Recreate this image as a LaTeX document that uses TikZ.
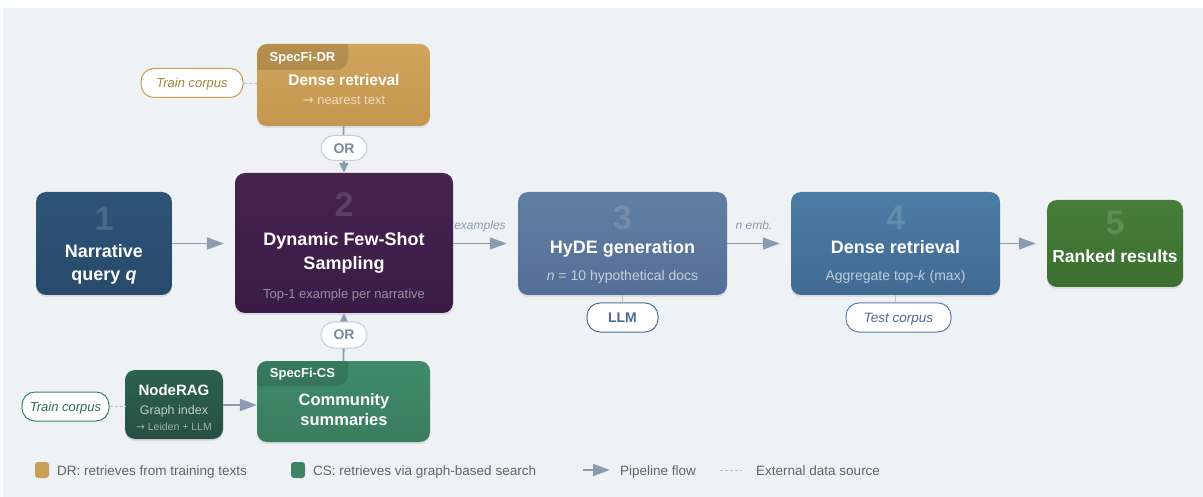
\documentclass[tikz,border=0pt]{standalone}
\usepackage{fontspec}
\setmainfont{Liberation Sans}
\newfontfamily\arrowfont{DejaVu Sans}
\usetikzlibrary{arrows.meta,shadows}
\definecolor{bgc}{HTML}{EFF2F4}
\definecolor{flowc}{HTML}{8B9AAF}
\definecolor{extc}{HTML}{B9C1CB}
\definecolor{goldc}{HTML}{C99E55}
\definecolor{goldt}{HTML}{A8823D}
\definecolor{greenc}{HTML}{3C8464}
\definecolor{greent}{HTML}{2F6E55}
\definecolor{bluet}{HTML}{4A6A92}
\definecolor{legt}{HTML}{5B6570}
\definecolor{orc}{HTML}{C6CED9}
\definecolor{ort}{HTML}{7B8AA0}
\definecolor{qa}{HTML}{2E5479}\definecolor{qb}{HTML}{284A6B}
\definecolor{fa}{HTML}{47234F}\definecolor{fb}{HTML}{3A1A47}
\definecolor{ha}{HTML}{617FA3}\definecolor{hb}{HTML}{546F97}
\definecolor{da}{HTML}{4C7CA5}\definecolor{db}{HTML}{416A92}
\definecolor{ra}{HTML}{467E39}\definecolor{rb}{HTML}{3C6E30}
\definecolor{dra}{HTML}{D0A55C}\definecolor{drb}{HTML}{C4964F}
\definecolor{csa}{HTML}{3F8C6A}\definecolor{csb}{HTML}{3A7D5E}
\definecolor{na}{HTML}{2D6150}\definecolor{nb}{HTML}{264F41}
\definecolor{llmc}{HTML}{4F6F98}
\definecolor{tcc}{HTML}{5A7FA6}
\newcommand{\fsz}[1]{\fontsize{#1}{#1}\selectfont}
\newcommand{\rarr}{{\arrowfont →}}
\tikzset{
  box/.style={draw=none, rounded corners=10pt, inner sep=0pt,
    drop shadow={opacity=0.18, shadow xshift=0pt, shadow yshift=-2pt}},
  bignum/.style={font=\fsz{34}\bfseries, text=white, text opacity=0.14, inner sep=0pt, anchor=base},
  ttl/.style={font=\fsz{18}\bfseries, text=white, inner sep=0pt, anchor=base},
  sub/.style={font=\fsz{14}, text=white, text opacity=0.66, inner sep=0pt, anchor=base},
  pill/.style={draw, line width=1pt, fill=white, rounded corners=13pt, inner sep=0pt},
  ptxt/.style={inner sep=0pt, anchor=base},
  flow/.style={draw=flowc, line width=1.8pt, -{Triangle[length=17pt,width=12pt]}},
  vflow/.style={draw=flowc, line width=1.8pt, -{Triangle[length=10pt,width=9pt]}},
  ext/.style={draw=extc, line width=0.9pt, dash pattern=on 3pt off 2pt},
  lnk/.style={draw=extc, line width=1pt},
  elab/.style={font=\fsz{12}\itshape, text=flowc, inner sep=0pt, anchor=base},
  tabt/.style={font=\fsz{13}\bfseries, text=white, inner sep=0pt, anchor=base},
  legt/.style={font=\fsz{13.5}, text=legt, anchor=base west, inner sep=0pt}
}
\begin{document}
\begin{tikzpicture}[x=1pt,y=-1pt]
\useasboundingbox (0,0) rectangle (1203,497);
\fill[white] (0,0) rectangle (1203,497);
\fill[bgc] (3,8) rectangle (1203,497);

% main pipeline boxes
\node[box, top color=qa, bottom color=qb, minimum width=136pt, minimum height=103pt] (q) at (104,243.5) {};
\node[bignum] (q1) at (104,231) {1};
\node[ttl] (q2) at (104,258) {Narrative};
\node[ttl] (q3) at (104,281) {query \textit{q}};

\node[box, top color=fa, bottom color=fb, minimum width=218pt, minimum height=140pt] (fs) at (344,243) {};
\node[bignum] (fs1) at (344,217) {2};
\node[ttl] (fs2) at (344,246) {Dynamic Few-Shot};
\node[ttl] (fs3) at (344,270) {Sampling};
\node[sub, font=\fsz{13}, text opacity=0.5] (fs4) at (344,298.5) {Top-1 example per narrative};

\node[box, top color=ha, bottom color=hb, minimum width=209pt, minimum height=103pt] (hy) at (622.5,243.5) {};
\node[bignum] (hy1) at (622.5,230) {3};
\node[ttl] (hy2) at (622.5,254) {HyDE generation};
\node[sub] (hy3) at (622.5,280) {\textit{n} = 10 hypothetical docs};

\node[box, top color=da, bottom color=db, minimum width=209pt, minimum height=103pt] (dn) at (895.5,243.5) {};
\node[bignum] (dn1) at (895.5,230) {4};
\node[ttl] (dn2) at (895.5,254) {Dense retrieval};
\node[sub] (dn3) at (895.5,280) {Aggregate top-\textit{k} (max)};

\node[box, top color=ra, bottom color=rb, minimum width=136pt, minimum height=87pt] (rk) at (1115,243.5) {};
\node[bignum] (rk1) at (1115,235) {5};
\node[ttl, font=\fsz{17.5}\bfseries] (rk2) at (1115,263) {Ranked results};

% SpecFi-DR
\node[box, top color=dra, bottom color=drb, minimum width=173pt, minimum height=82pt] (dr) at (343.5,85) {};
\begin{scope}
\clip[rounded corners=10pt] (257,44) rectangle (430,126);
\fill[black, opacity=0.13, rounded corners=11pt] (245,33) rectangle (348,70);
\end{scope}
\node[tabt] (dr0) at (302.5,61.5) {SpecFi-DR};
\node[ttl, font=\fsz{15.5}\bfseries] (dr1) at (344,86) {Dense retrieval};
\node[sub, font=\fsz{13}] (dr2) at (344,105) {\rarr\ nearest text};

% SpecFi-CS
\node[box, top color=csa, bottom color=csb, minimum width=173pt, minimum height=81pt] (cs) at (343.5,401.5) {};
\begin{scope}
\clip[rounded corners=10pt] (257,361) rectangle (430,442);
\fill[black, opacity=0.13, rounded corners=11pt] (245,350) rectangle (348,386);
\end{scope}
\node[tabt] (cs0) at (302.5,377.7) {SpecFi-CS};
\node[ttl, font=\fsz{16.5}\bfseries] (cs1) at (344,405) {Community};
\node[ttl, font=\fsz{16.5}\bfseries] (cs2) at (344,425) {summaries};

% NodeRAG
\node[box, top color=na, bottom color=nb, minimum width=98pt, minimum height=69pt] (nr) at (174,404.5) {};
\node[ttl, font=\fsz{15}\bfseries] (nr1) at (174,395.7) {NodeRAG};
\node[sub, font=\fsz{12.5}, text opacity=0.7] (nr2) at (174,414) {Graph index};
\node[sub, font=\fsz{10.5}, text opacity=0.55] (nr3) at (174,430.7) {\rarr\ Leiden + LLM};

% external sources
\node[pill, draw=goldc, minimum width=102pt, minimum height=29pt] (tc1) at (192,83) {};
\node[ptxt, font=\fsz{13}\itshape, text=goldt] (tc1t) at (192,87.7) {Train corpus};
\node[pill, draw=greenc, minimum width=87pt, minimum height=29pt] (tc2) at (65.5,406.5) {};
\node[ptxt, font=\fsz{13}\itshape, text=greent] (tc2t) at (65.5,411.5) {Train corpus};
\draw[ext] (tc1.east) -- (tc1.east -| dr.west);
\draw[ext] (tc2.east) -- (tc2.east -| nr.west);

% OR connectors
\draw[vflow] (dr.south) -- (fs.north);
\draw[vflow] (cs.north) -- (fs.south);
\node[pill, draw=orc, minimum width=46pt, minimum height=25pt] (or1) at (344,148) {};
\node[ptxt, font=\fsz{14}\bfseries, text=ort] (or1t) at (344,153.3) {OR};
\node[pill, draw=orc, minimum width=46pt, minimum height=26pt] (or2) at (344,335) {};
\node[ptxt, font=\fsz{14}\bfseries, text=ort] (or2t) at (344,340) {OR};

% NodeRAG -> CS
\draw[flow] (nr.east |- 0,405) -- (cs.west |- 0,405);

% pipeline flow
\draw[flow, shorten >=11pt] (q.east) -- (fs.west |- q.east);
\draw[flow, shorten >=11pt] (fs.east |- hy.west) -- (hy.west);
\draw[flow, shorten >=11pt] (hy.east) -- (dn.west);
\draw[flow, shorten >=11pt] (dn.east) -- (rk.west);
\node[elab] (l1) at (480,230) {examples};
\node[elab] (l2) at (754,230) {n emb.};

% LLM and test corpus
\node[pill, draw=llmc, minimum width=71pt, minimum height=29pt] (llm) at (622.5,317.5) {};
\node[ptxt, font=\fsz{14}\bfseries, text=bluet] (llmt) at (622.5,322.7) {LLM};
\node[pill, draw=tcc, minimum width=105pt, minimum height=29pt] (tc3) at (898.5,317.5) {};
\node[ptxt, font=\fsz{13.5}\itshape, text=bluet] (tc3t) at (898.5,322.7) {Test corpus};
\draw[lnk] (hy.south) -- (llm.north);
\draw[lnk] (dn.south) -- (dn.south |- tc3.north);

% legend
\fill[goldc, rounded corners=3pt] (35,462) rectangle (49,478);
\node[legt] (lg1) at (57,475) {DR: retrieves from training texts};
\fill[greenc, rounded corners=3pt] (291,462) rectangle (305,478);
\node[legt] (lg2) at (313,475) {CS: retrieves via graph-based search};
\coordinate (la) at (583,470);
\coordinate (lb) at (610,470);
\draw[flow] (la) -- (lb);
\node[legt] (lg3) at (620,475) {Pipeline flow};
\coordinate (lc) at (720,470);
\coordinate (ld) at (742,470);
\draw[ext] (lc) -- (ld);
\node[legt] (lg4) at (756,475) {External data source};
\end{tikzpicture}
\end{document}
